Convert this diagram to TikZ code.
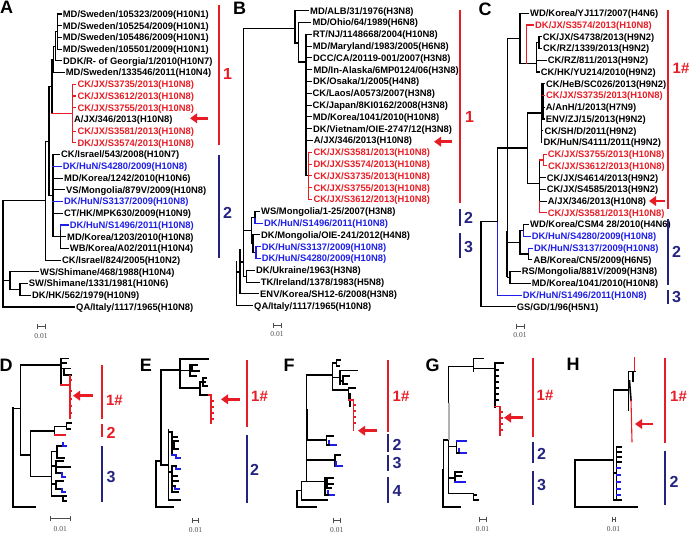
\documentclass[tikz,border=0pt]{standalone}
\usepackage{fontspec}
\setmainfont{Liberation Sans}
\newfontfamily\scalefont{Liberation Serif}
\usetikzlibrary{arrows.meta}
\definecolor{hred}{RGB}{232,28,36}
\definecolor{hblue}{RGB}{30,30,232}
\definecolor{hnavy}{RGB}{36,36,128}

\begin{document}
\begin{tikzpicture}[
  x=1pt, y=-1pt,
  leaf/.style={anchor=west, inner sep=0pt, font=\fontsize{9.4}{10}\selectfont\bfseries,
               text height=6.7pt, text depth=0pt},
  br/.style={line width=1.1pt, line cap=rect},
  brR/.style={br, draw=hred},
  brB/.style={br, draw=hblue},
  brT/.style={line width=2pt, line cap=rect},
  clbar/.style={line width=1.8pt},
  cllbl/.style={font=\fontsize{16}{16}\selectfont\bfseries, inner sep=0pt},
  hashlbl/.style={font=\fontsize{15}{15}\selectfont\bfseries, inner sep=0pt},
  panel/.style={font=\fontsize{18}{18}\selectfont\bfseries, inner sep=0pt},
  hot/.style={draw=hred, line width=2.8pt, -{Triangle[length=7pt,width=9.5pt]}},
  sbar/.style={line width=0.7pt, draw=black!70},
  stxt/.style={font=\scalefont\fontsize{7.5}{8}\selectfont, text=black!70, inner sep=0pt}
]
\useasboundingbox (0,0) rectangle (696,533);

% ---------------- Panel A ----------------
\node[panel] (labA) at (6.5,7) {A};
\foreach \i/\x/\col/\txt in {
  1/62.7/black/{MD/Sweden/105323/2009(H10N1)},
  2/62.7/black/{MD/Sweden/105254/2009(H10N1)},
  3/62.7/black/{MD/Sweden/105486/2009(H10N1)},
  4/62.7/black/{MD/Sweden/105501/2009(H10N1)},
  5/63/black/{DDK/R- of Georgia/1/2010(H10N7)},
  6/65.7/black/{MD/Sweden/133546/2011(H10N4)},
  7/77.3/hred/{CK/JX/S3735/2013(H10N8)},
  8/77.3/hred/{CK/JX/S3612/2013(H10N8)},
  9/77.3/hred/{CK/JX/S3755/2013(H10N8)},
  10/74/black/{A/JX/346/2013(H10N8)},
  11/77.3/hred/{CK/JX/S3581/2013(H10N8)},
  12/77.3/hred/{DK/JX/S3574/2013(H10N8)},
  13/61/black/{CK/Israel/543/2008(H10N7)},
  14/62.7/hblue/{DK/HuN/S4280/2009(H10N8)},
  15/64/black/{MD/Korea/1242/2010(H10N6)},
  16/66/black/{VS/Mongolia/879V/2009(H10N8)},
  17/64/hblue/{DK/HuN/S3137/2009(H10N8)},
  18/64/black/{CT/HK/MPK630/2009(H10N9)},
  19/69.7/hblue/{DK/HuN/S1496/2011(H10N8)},
  20/67/black/{MD/Korea/1203/2010(H10N8)},
  21/69.7/black/{WB/Korea/A02/2011(H10N4)},
  22/62/black/{CK/Israel/824/2005(H10N2)},
  23/40/black/{WS/Shimane/468/1988(H10N4)},
  24/28.7/black/{SW/Shimane/1331/1981(H10N6)},
  25/32/black/{DK/HK/562/1979(H10N9)},
  26/76/black/{QA/Italy/1117/1965(H10N8)}}
  \node[leaf, text=\col] (A\i) at (\x,{14+11.72*(\i-1)}) {\txt};

% clade 1
\draw[br] (57.5,14) -- (57.5,49.2);
\foreach \y in {14,25.7,37.4,49.2} \draw[br] (57.5,\y) -- (61.2,\y);
\draw[br] (55.5,31.6) -- (57.5,31.6);
\draw[br] (55.5,31.6) -- (55.5,60.9) -- (61.5,60.9);
\draw[br] (53.5,46.2) -- (55.5,46.2);
\draw[br] (53.5,46.2) -- (53.5,72.6) -- (64.2,72.6);
\draw[br] (52,59.4) -- (53.5,59.4);
\draw[br] (52,59.4) -- (52,113.6);
\draw[brR] (52,113.6) -- (72.5,113.6);
\draw[brR] (72.5,84.3) -- (72.5,142.9);
\foreach \y in {84.3,96,107.8,131.2,142.9} \draw[brR] (72.5,\y) -- (75.8,\y);
% clade 2
\draw[br] (49,86.5) -- (52,86.5);
\draw[br] (49,86.5) -- (49,195.7) -- (53,195.7);
\draw[br] (53,154.6) -- (53,236.7);
\draw[br, line width=1.8pt] (53,166.4) -- (53,230);
\draw[br] (53,154.6) -- (59.5,154.6);
\draw[brB] (53,166.4) -- (61.2,166.4);
\draw[br] (53,178.1) -- (62.5,178.1);
\draw[br] (53,189.8) -- (64.5,189.8);
\draw[brB] (53,201.5) -- (62.5,201.5);
\draw[br] (53,213.2) -- (62.5,213.2);
\draw[br] (53,236.7) -- (60.5,236.7);
\draw[br] (60.5,225) -- (60.5,248.4) -- (68.2,248.4);
\draw[brB] (60.5,229) -- (60.5,225) -- (68.2,225);
\draw[br] (60.5,236.7) -- (65.5,236.7);
% outgroups
\draw[br] (45.7,141.1) -- (49,141.1);
\draw[br] (45.7,141.1) -- (45.7,260.1) -- (60.5,260.1);
\draw[br] (3,200.6) -- (45.7,200.6);
\draw[br] (10,271.8) -- (38.5,271.8);
\draw[br] (10,271.8) -- (10,289.4) -- (20,289.4);
\draw[br] (27.2,283.6) -- (20,283.6) -- (20,295.3) -- (30.5,295.3);
\draw[br] (3,280.6) -- (10,280.6);
\draw[br] (3,200.6) -- (3,307) -- (74.5,307);

% bars, arrow, scale
\draw[clbar, hred] (219.3,5) -- (219.3,145);
\node[cllbl, text=hred] (grpA1) at (227.5,74) {1};
\draw[clbar, hnavy] (219.3,155) -- (219.3,258);
\node[cllbl, text=hnavy] (grpA2) at (227.5,212.7) {2};
\coordinate (arrAs) at (208,118.3);
\coordinate (arrAe) at (190,118.3);
\draw[hot] (arrAs) -- (arrAe);
\draw[sbar] (37,323.5) -- (37,328.5) (37,326) -- (45,326) (45,323.5) -- (45,328.5);
\node[stxt] (scA) at (41,336.5) {0.01};

% ---------------- Panel B ----------------
\node[panel] (labB) at (239.5,8.5) {B};
\foreach \i/\x/\col/\txt in {
  1/310/black/{MD/ALB/31/1976(H3N8)},
  2/312.3/black/{MD/Ohio/64/1989(H6N8)},
  3/312.7/black/{RT/NJ/1148668/2004(H10N8)},
  4/312.7/black/{MD/Maryland/1983/2005(H6N8)},
  5/313/black/{DCC/CA/20119-001/2007(H3N8)},
  6/313.3/black/{MD/In-Alaska/6MP0124/06(H3N8)},
  7/313/black/{DK/Osaka/1/2005(H4N8)},
  8/312.5/black/{CK/Laos/A0573/2007(H3N8)},
  9/312.5/black/{CK/Japan/8KI0162/2008(H3N8)},
  10/312.7/black/{MD/Korea/1041/2010(H10N8)},
  11/313/black/{DK/Vietnam/OIE-2747/12(H3N8)},
  12/313.7/black/{A/JX/346/2013(H10N8)},
  13/313.3/hred/{CK/JX/S3581/2013(H10N8)},
  14/313.3/hred/{DK/JX/S3574/2013(H10N8)},
  15/313.3/hred/{CK/JX/S3735/2013(H10N8)},
  16/313.3/hred/{CK/JX/S3755/2013(H10N8)},
  17/313.3/hred/{CK/JX/S3612/2013(H10N8)},
  18/261/black/{WS/Mongolia/1-25/2007(H3N8)},
  19/264/hblue/{DK/HuN/S1496/2011(H10N8)},
  20/261/black/{DK/Mongolia/OIE-241/2012(H4N8)},
  21/261.7/hblue/{DK/HuN/S3137/2009(H10N8)},
  22/261.7/hblue/{DK/HuN/S4280/2009(H10N8)},
  23/256/black/{DK/Ukraine/1963(H3N8)},
  24/260.7/black/{TK/Ireland/1378/1983(H5N8)},
  25/260/black/{ENV/Korea/SH12-6/2008(H3N8)},
  26/254/black/{QA/Italy/1117/1965(H10N8)}}
  \node[leaf, text=\col] (B\i) at (\x,{10.7+11.8*(\i-1)}) {\txt};

% upper clade
\draw[br] (243.3,28.3) -- (295,28.3);
\draw[br] (308.5,10.7) -- (295,10.7) -- (295,43) -- (298.3,43);
\draw[br] (310.8,22.5) -- (298.3,22.5) -- (298.3,62) -- (306,62);
\draw[br] (306,34.3) -- (306,175.9);
\draw[br, line width=1.8pt] (306,62) -- (306,170);
\foreach \y/\e in {34.3/311.2,46.1/311.2,57.9/311.5,69.7/311.8,81.5/311.5,93.3/311,
                   105.1/311,116.9/311.2,128.7/311.5,140.5/312.2}
  \draw[br] (306,\y) -- (\e,\y);
\draw[br] (306,175.9) -- (308.5,175.9);
\draw[brR] (308.5,152.3) -- (308.5,199.5);
\foreach \y in {152.3,164.1,175.9,187.7,199.5} \draw[brR] (308.5,\y) -- (311.8,\y);
% lower clades
\draw[br] (259.5,211.3) -- (255,211.3) -- (255,217.2);
\draw[brB] (255,217.2) -- (255,223.1) -- (262.5,223.1);
\draw[br] (259.5,234.9) -- (253,234.9) -- (253,252.6) -- (256,252.6);
\draw[brB] (260.2,246.7) -- (256,246.7) -- (256,258.5) -- (260.2,258.5);
\draw[br] (255,217.2) -- (251.7,217.2) -- (251.7,243.8) -- (253,243.8);
\draw[br] (243.3,230.5) -- (251.7,230.5);
\draw[br] (254.5,270.3) -- (246.5,270.3) -- (246.5,282.1) -- (259.2,282.1);
\draw[br] (243.3,276.2) -- (246.5,276.2);
\draw[br] (243.3,28.3) -- (243.3,276.2);
\draw[br] (240,262) -- (243.3,262);
\draw[br] (240,250) -- (240,293.9) -- (258.5,293.9);
\draw[br] (236.7,272) -- (240,272);
\draw[br] (236.7,262) -- (236.7,305.7) -- (252.5,305.7);

% bars, arrow, scale
\draw[clbar, hred] (460,10) -- (460,203);
\node[cllbl, text=hred] (grpB1) at (469.5,116.7) {1};
\draw[clbar, hnavy] (460,209) -- (460,226);
\node[cllbl, text=hnavy] (grpB2) at (468.5,218) {2};
\draw[clbar, hnavy] (460,233) -- (460,258);
\node[cllbl, text=hnavy] (grpB3) at (468.5,247) {3};
\coordinate (arrBs) at (452,141.7);
\coordinate (arrBe) at (434,141.7);
\draw[hot] (arrBs) -- (arrBe);
\draw[sbar] (273,322.5) -- (273,327.5) (273,325) -- (281,325) (281,322.5) -- (281,327.5);
\node[stxt] (scB) at (277,334) {0.01};

% ---------------- Panel C ----------------
\node[panel] (labC) at (485,9) {C};
\foreach \i/\x/\col/\txt in {
  1/530/black/{WD/Korea/YJ117/2007(H4N6)},
  2/535/hred/{DK/JX/S3574/2013(H10N8)},
  3/542.7/black/{CK/JX/S4738/2013(H9N2)},
  4/543/black/{CK/RZ/1339/2013(H9N2)},
  5/547.7/black/{CK/RZ/811/2013(H9N2)},
  6/540.7/black/{CK/HK/YU214/2010(H9N2)},
  7/546/black/{CK/HeB/SC026/2013(H9N2)},
  8/546/hred/{CK/JX/S3735/2013(H10N8)},
  9/545.7/black/{A/AnH/1/2013(H7N9)},
  10/545.7/black/{ENV/ZJ/15/2013(H9N2)},
  11/544.3/black/{CK/SH/D/2011(H9N2)},
  12/543.3/black/{DK/HuN/S4111/2011(H9N2)},
  13/547.7/hred/{CK/JX/S3755/2013(H10N8)},
  14/548/hred/{CK/JX/S3612/2013(H10N8)},
  15/546.7/black/{CK/JX/S4614/2013(H9N2)},
  16/546.7/black/{CK/JX/S4585/2013(H9N2)},
  17/547.7/black/{A/JX/346/2013(H10N8)},
  18/547.7/hred/{CK/JX/S3581/2013(H10N8)},
  19/530/black/{WD/Korea/CSM4 28/2010(H4N6)},
  20/531.7/hblue/{DK/HuN/S4280/2009(H10N8)},
  21/534/hblue/{DK/HuN/S3137/2009(H10N8)},
  22/533.3/black/{AB/Korea/CN5/2009(H6N5)},
  23/521.7/black/{RS/Mongolia/881V/2009(H3N8)},
  24/531.7/black/{MD/Korea/1041/2010(H10N8)},
  25/522.7/hblue/{DK/HuN/S1496/2011(H10N8)},
  26/516.7/black/{GS/GD/1/96(H5N1)}}
  \node[leaf, text=\col] (C\i) at (\x,{13.3+11.74*(\i-1)}) {\txt};

% top group
\draw[br] (507.3,38.3) -- (520,38.3);
\draw[br] (528.5,13.3) -- (520,13.3) -- (520,63.3) -- (536.5,63.3);
\draw[brR] (526.7,63.3) -- (526.7,25) -- (533.5,25);
\draw[br] (536.5,42.6) -- (536.5,72) -- (539.2,72);
\draw[br] (536.5,60.3) -- (546.2,60.3);
\draw[br] (536.5,42.6) -- (539,42.6);
\draw[br] (541.2,36.8) -- (539,36.8) -- (539,48.5) -- (541.5,48.5);
% H9N2 / H10N8 group
\draw[br] (497.3,148) -- (527.3,148);
\draw[br] (541.7,113) -- (527.3,113) -- (527.3,183.5) -- (539.3,183.5);
\draw[br] (541.7,83.7) -- (541.7,142.4);
\draw[br] (541.7,101.4) -- (543,101.4);
\draw[br] (543,83.7) -- (543,119);
\foreach \y/\e in {83.7/544.5,107.2/544.2,119/544.2} \draw[br] (543,\y) -- (\e,\y);
\draw[brR] (543,95.5) -- (544.5,95.5);
\draw[br] (541.7,130.7) -- (542.8,130.7);
\draw[br] (539.3,160) -- (539.3,201.1);
\draw[brR] (539.3,160) -- (543.7,160);
\draw[brR] (546.2,154.2) -- (543.7,154.2) -- (543.7,165.9) -- (546.5,165.9);
\foreach \y/\e in {177.7/545.2,189.4/545.2,201.1/546.2} \draw[br] (539.3,\y) -- (\e,\y);
\draw[brR] (539.3,201.1) -- (539.3,212.9) -- (546.2,212.9);
% clades 2 and 3
\draw[br] (507.3,242.2) -- (520,242.2);
\draw[br] (520,230.5) -- (520,254) -- (528.3,254);
\draw[br] (528.5,224.6) -- (523.3,224.6) -- (523.3,230.5) -- (520,230.5);
\draw[brB] (523.3,230.5) -- (523.3,236.4) -- (530.2,236.4);
\draw[brB] (528.3,254) -- (528.3,248.1) -- (532.5,248.1);
\draw[br] (528.3,254) -- (528.3,259.8) -- (531.8,259.8);
\draw[br] (507.3,277.5) -- (510,277.5);
\draw[br] (520.2,271.6) -- (510,271.6) -- (510,283.3) -- (530.2,283.3);
\draw[br] (507.3,38.3) -- (507.3,277.5);
\draw[br, line width=1.8pt] (507.3,232) -- (507.3,276);
% root
\draw[br] (497.3,148) -- (497.3,221.7);
\draw[brB] (497.3,221.7) -- (497.3,295.1) -- (521.2,295.1);
\draw[br] (481,221.7) -- (497.3,221.7);
\draw[br] (481,221.7) -- (481,306.8) -- (515.2,306.8);

% bars, arrow, scale
\draw[clbar, hred] (668,10) -- (668,209);
\node[hashlbl, text=hred] (grpC1) at (681,68) {1\#};
\draw[clbar, hnavy] (668,219) -- (668,285);
\node[cllbl, text=hnavy] (grpC2) at (676.5,252) {2};
\draw[clbar, hnavy] (668,290) -- (668,304);
\node[cllbl, text=hnavy] (grpC3) at (676.5,297) {3};
\coordinate (arrCs) at (665,201);
\coordinate (arrCe) at (649,201);
\draw[hot] (arrCs) -- (arrCe);
\draw[sbar] (516,323.5) -- (516,328.5) (516,326) -- (524,326) (524,323.5) -- (524,328.5);
\node[stxt] (scC) at (520,335) {0.01};

% ---------------- Panel D ----------------
\node[panel] (labD) at (6,365.5) {D};
\draw[brT] (13.3,408.3) -- (13.3,506.7) -- (35,506.7);
\draw[br] (13.3,408.3) -- (20.7,408.3);
\draw[br] (20.7,365) -- (20.7,455);
\draw[br] (20.7,365) -- (61,365);
\draw[br] (61,358.3) -- (61,385);
\draw[br, line width=1.8pt] (61,367) -- (61,380);
\draw[br] (61,358.3) -- (68.3,358.3);
\draw[br] (61,363) -- (66,363);
\draw[br] (61,368.5) -- (70,368.5);
\draw[br] (64,368.5) -- (64,375) -- (71,375);
\draw[brR] (61,385) -- (70,385);
\draw[brR] (70,376) -- (70,418.3);
\foreach \y in {380,391,399,406,413} \draw[brR] (70,\y) -- (71.5,\y);
\draw[br] (20.7,455) -- (30.7,455);
\draw[br] (30.7,431) -- (30.7,476.7);
\draw[br] (30.7,431) -- (54.3,431);
\draw[br] (54.3,426.7) -- (54.3,435);
\draw[br] (54.3,426.7) -- (66.7,426.7);
\draw[br] (71,423) -- (66.7,423) -- (66.7,429) -- (70,429);
\draw[brR] (54.3,435) -- (65,435);
\draw[br] (30.7,476.7) -- (51.7,476.7);
\draw[br] (51.7,451.7) -- (51.7,496);
\draw[br] (51.7,451.7) -- (57,451.7);
\draw[br] (57,446) -- (57,458) -- (64,458);
\draw[br] (57,446) -- (63,446);
\draw[brB] (63,443) -- (63,446) -- (66.5,446);
\draw[br] (51.7,466) -- (56,466);
\draw[br] (56,461) -- (56,473);
\draw[br] (56,461) -- (63,461);
\draw[br] (56,467) -- (70,467);
\draw[br] (56,473) -- (62,473);
\draw[brB] (62,473) -- (62,477) -- (65,477);
\draw[br] (51.7,484) -- (56,484);
\draw[br] (56,481) -- (56,489) -- (62,489);
\draw[br] (56,481) -- (63,481);
\draw[brB] (62,489) -- (62,492) -- (65.5,492);
\draw[br] (51.7,496) -- (63,496);
\draw[br] (63,496) -- (63,501) -- (66,501);
\draw[br] (63,496) -- (66,496);
% bars, arrow, scale
\draw[clbar, line width=2pt, hred] (101.7,365) -- (101.7,419);
\node[hashlbl, text=hred] (grpD1) at (114.5,400) {1\#};
\draw[clbar, line width=2pt, hred] (101.7,424) -- (101.7,437);
\node[cllbl, text=hred] (grpD2) at (111,432.7) {2};
\draw[clbar, line width=2pt, hnavy] (101.7,446) -- (101.7,501.7);
\node[cllbl, text=hnavy] (grpD3) at (111,476.7) {3};
\coordinate (arrDs) at (93,395.7);
\coordinate (arrDe) at (73,395.7);
\draw[hot] (arrDs) -- (arrDe);
\draw[sbar] (50,515.8) -- (50,520.8) (50,518.3) -- (70.7,518.3) (70.7,515.8) -- (70.7,520.8);
\node[stxt] (scD) at (60.3,529.3) {0.01};

% ---------------- Panel E ----------------
\node[panel] (labE) at (146,365.5) {E};
\draw[brT] (156,461) -- (156,506.7) -- (173.3,506.7);
\draw[br] (156,461) -- (161,461);
\draw[br] (161,370) -- (161,465);
\draw[br] (161,370) -- (180,370);
\draw[br] (180,359) -- (180,388);
\draw[br] (180,359) -- (208,359);
\draw[br] (180,370.5) -- (190,370.5);
\draw[br] (197,365) -- (190,365) -- (190,376) -- (196,376);
\draw[br] (192,365) -- (192,371) -- (199,371);
\draw[br] (180,388) -- (200,388);
\draw[br] (200,382) -- (200,395);
\draw[br] (200,382) -- (205,382);
\draw[br] (203,378) -- (203,386) -- (207,386);
\draw[br] (203,378) -- (206,378);
\draw[br] (200,395) -- (209,395);
\draw[brR] (209,395) -- (211,395) -- (211,423);
\foreach \y in {401,407,413,419} \draw[brR] (211,\y) -- (213,\y);
\coordinate (arrEs) at (240,399.3);
\coordinate (arrEe) at (221,399.3);
\draw[hot] (arrEs) -- (arrEe);
\draw[br] (161,465) -- (168.3,465);
\draw[br] (168.3,430) -- (168.3,500);
\draw[br] (168.3,432) -- (172,432);
\draw[br] (172,432) -- (172,455);
\draw[br] (172,437) -- (177,437);
\draw[br] (174,441) -- (174,449);
\draw[br] (172,445) -- (174,445);
\draw[br] (174,441) -- (178,441);
\draw[br] (174,449) -- (178,449);
\draw[brB] (172,455) -- (176,455) -- (176,458) -- (180,458);
\draw[br] (168.3,472) -- (172,472);
\draw[br] (172,466) -- (172,492);
\draw[brB] (176,466) -- (176,469) -- (180,469);
\draw[br] (172,466) -- (176,466);
\draw[br] (172,476) -- (177,476);
\draw[br] (174,481) -- (178,481);
\draw[brB] (175,486) -- (175,489) -- (179,489);
\draw[br] (172,486) -- (175,486);
\draw[br] (172,492) -- (178,492);
\draw[br] (168.3,500) -- (180,500);
\draw[clbar, line width=2pt, hred] (246.7,360) -- (246.7,426.7);
\node[hashlbl, text=hred] (grpE1) at (259.5,396.7) {1\#};
\draw[clbar, line width=2pt, hnavy] (246.7,435) -- (246.7,503);
\node[cllbl, text=hnavy] (grpE2) at (254.5,470) {2};
\draw[sbar] (192.7,517.5) -- (192.7,522.5) (192.7,520) -- (198.3,520) (198.3,517.5) -- (198.3,522.5);
\node[stxt] (scE) at (195.5,530) {0.01};

% ---------------- Panel F ----------------
\node[panel] (labF) at (289,365) {F};
\draw[brT] (296.7,490.8) -- (296.7,506.7) -- (316,506.7);
\draw[br] (296.7,490.8) -- (301.7,490.8);
\draw[br] (301.7,481.7) -- (301.7,500) -- (327.3,500);
\draw[br] (301.7,481.7) -- (325,481.7);
\draw[br] (306.7,375) -- (306.7,481.7);
\draw[br, line width=1.8pt] (306.7,410) -- (306.7,440);
\draw[br] (306.7,375) -- (332.7,375);
\draw[br] (332.7,363) -- (332.7,390);
\draw[br] (332.7,363) -- (336.7,363);
\draw[br] (340,360) -- (336.7,360) -- (336.7,366) -- (339,366);
\draw[br] (332.7,377.3) -- (340,377.3);
\draw[br] (340,370.7) -- (340,384);
\draw[br] (340,370.7) -- (357.3,370.7);
\draw[br] (343,376) -- (343,384) -- (347,384);
\draw[br] (343,376) -- (349,376);
\draw[br] (340,381) -- (343,381);
\draw[br] (332.7,390) -- (348.3,390);
\draw[br] (348.3,388) -- (348.3,400);
\draw[br] (348.3,388) -- (355,388);
\draw[br, line width=1.8pt] (350,394) -- (350,406);
\draw[brR] (348.3,400) -- (353.3,400) -- (353.3,430);
\foreach \y in {405,411,417,423} \draw[brR] (353.3,\y) -- (355,\y);
\coordinate (arrFs) at (377,430.7);
\coordinate (arrFe) at (358,430.7);
\draw[hot] (arrFs) -- (arrFe);
\draw[br] (306.7,440) -- (326.7,440);
\draw[br] (326.7,436) -- (326.7,445);
\draw[br] (326.7,436) -- (333,436);
\draw[brB] (329,441) -- (329,445) -- (336,445);
\draw[br] (326.7,445) -- (329,445);
\draw[br] (306.7,460) -- (335,460);
\draw[br] (335,455) -- (335,466);
\draw[br] (335,455) -- (340,455);
\draw[brB] (336,462) -- (336,466) -- (342,466);
\draw[br] (325,478) -- (325,495);
\draw[br] (325,478) -- (333,478);
\draw[br] (327,484) -- (333,484);
\draw[br] (327,480) -- (327,488) -- (331,488);
\draw[brB] (328,491) -- (328,495) -- (334,495);
\draw[br] (325,495) -- (328,495);
\draw[clbar, line width=2pt, hred] (388.3,360) -- (388.3,431.7);
\node[hashlbl, text=hred] (grpF1) at (401,396.7) {1\#};
\draw[clbar, line width=2pt, hnavy] (388.3,434) -- (388.3,451.7);
\node[cllbl, text=hnavy] (grpF2) at (397,445) {2};
\draw[clbar, line width=2pt, hnavy] (388.3,454.5) -- (388.3,471);
\node[cllbl, text=hnavy] (grpF3) at (397,463.3) {3};
\draw[clbar, line width=2pt, hnavy] (388.3,476.7) -- (388.3,503.3);
\node[cllbl, text=hnavy] (grpF4) at (397,490.7) {4};
\draw[sbar] (333,517.5) -- (333,522.5) (333,520) -- (340.5,520) (340.5,517.5) -- (340.5,522.5);
\node[stxt] (scF) at (336.7,530) {0.01};

% ---------------- Panel G ----------------
\node[panel] (labG) at (432.5,365) {G};
\draw[brT] (443.3,470) -- (443.3,506.7) -- (460,506.7);
\draw[br] (448.3,440) -- (443.3,440) -- (443.3,470);
\draw[br] (448.3,366.7) -- (448.3,493.3);
\draw[gray!60, line width=2.4pt] (449.2,403) -- (449.2,440);
\draw[br] (448.3,366.7) -- (473.3,366.7);
\draw[br] (483.3,358.3) -- (473.3,358.3) -- (473.3,371);
\draw[br] (473.3,368.3) -- (495,368.3);
\draw[br] (495,363) -- (495,406.7);
\draw[br, line width=1.8pt] (495,384) -- (495,406.7);
\draw[br] (495,363) -- (503,363);
\foreach \y in {370,376,382,388,394,400} \draw[br] (495,\y) -- (498.5,\y);
\draw[brR] (495,406.7) -- (500,406.7) -- (500,435);
\foreach \y in {412,418,424,430} \draw[brR] (500,\y) -- (502.5,\y);
\coordinate (arrGs) at (523.3,417.7);
\coordinate (arrGe) at (504,417.7);
\draw[hot] (arrGs) -- (arrGe);
\draw[br] (448.3,446.7) -- (456.7,446.7);
\draw[br] (456.7,441) -- (456.7,453);
\draw[brB] (456.7,441) -- (466.7,441);
\draw[brB] (459,449) -- (459,453) -- (466.7,453);
\draw[br] (456.7,453) -- (459,453);
\draw[br] (448.3,478) -- (455,478);
\draw[br] (455,472) -- (455,482);
\draw[br] (455,472) -- (462,472);
\draw[br] (457,476) -- (461,476);
\draw[brB] (455,482) -- (465,482);
\draw[br] (448.3,493.3) -- (473.3,493.3);
\draw[br] (473.3,493.3) -- (473.3,500) -- (478,500);
\draw[br] (473.3,495) -- (476,495);
\draw[clbar, line width=2pt, hred] (533.3,358.3) -- (533.3,436.7);
\node[hashlbl, text=hred] (grpG1) at (545,395) {1\#};
\draw[clbar, line width=2pt, hnavy] (533.3,441.7) -- (533.3,463.3);
\node[cllbl, text=hnavy] (grpG2) at (541.5,454) {2};
\draw[clbar, line width=2pt, hnavy] (533.3,470.7) -- (533.3,505);
\node[cllbl, text=hnavy] (grpG3) at (541.5,485) {3};
\draw[sbar] (479,516.8) -- (479,521.8) (479,519.3) -- (486,519.3) (486,516.8) -- (486,521.8);
\node[stxt] (scG) at (482.5,529.3) {0.01};

% ---------------- Panel H ----------------
\node[panel] (labH) at (573,364) {H};
\draw[brT] (575,460) -- (575,506.7) -- (636.7,506.7);
\draw[br] (575,460) -- (613.3,460);
\draw[br] (613.3,390) -- (613.3,500) -- (621.7,500);
\draw[br] (613.3,390) -- (628.3,390);
\draw[br] (628.3,371.7) -- (628.3,410);
\draw[br] (628.3,371.7) -- (635,371.7);
\draw[br] (633,371.7) -- (633,381.7);
\draw[brR] (634.3,358) -- (634.3,370);
\draw[br, line width=1.6pt] (629.5,381) -- (631,400);
\draw[brR] (631,400) -- (632,441.7);
\draw[br] (613.3,473) -- (616.7,473);
\draw[br] (616.7,446.7) -- (616.7,500);
\foreach \y in {447,452,457,462} \draw[br] (616.7,\y) -- (621.7,\y);
\foreach \y in {468,475,482,489,495} \draw[brB] (616.7,\y) -- (620.5,\y);
\coordinate (arrHs) at (653.3,424);
\coordinate (arrHe) at (635,424);
\draw[hot] (arrHs) -- (arrHe);
\draw[clbar, line width=2pt, hred] (665,358.3) -- (665,443.3);
\node[hashlbl, text=hred] (grpH1) at (678.5,396) {1\#};
\draw[clbar, line width=2pt, hnavy] (665,450.7) -- (665,505);
\node[cllbl, text=hnavy] (grpH2) at (674,481.7) {2};
\draw[sbar] (612,516.8) -- (612,521.8) (612,519.3) -- (615,519.3) (615,516.8) -- (615,521.8);
\node[stxt] (scH) at (613.5,529.3) {0.01};
\end{tikzpicture}
\end{document}
